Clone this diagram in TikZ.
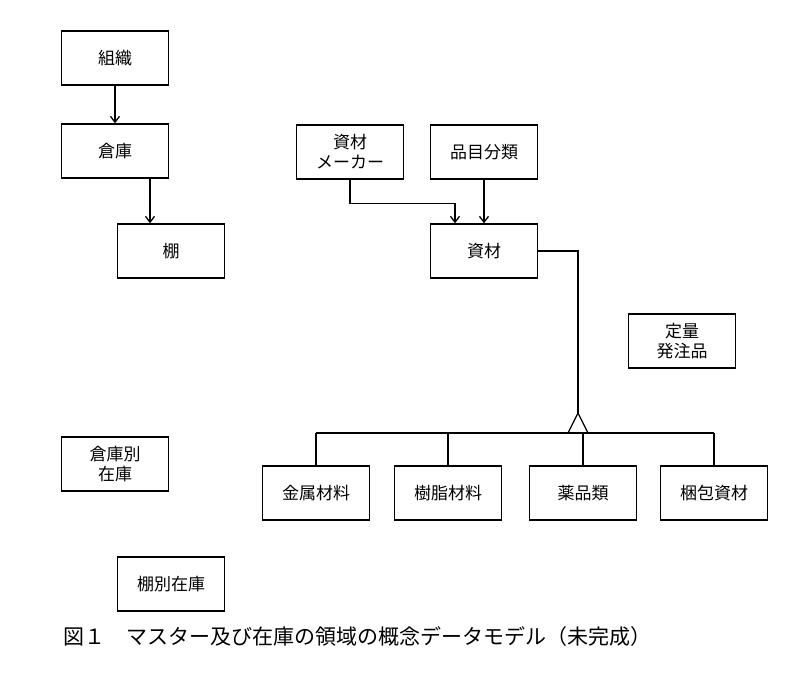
\documentclass[tikz,border=0pt]{standalone}
\usepackage{fontspec}
\setmainfont{Noto Sans CJK JP}
\usetikzlibrary{arrows.meta}
\begin{document}
\begin{tikzpicture}[x=1pt,y=-1pt,
 box/.style={draw,line width=1.3pt,minimum width=107pt,minimum height=54pt,align=center,font=\fontsize{17}{20}\selectfont,inner sep=0pt},
 ln/.style={line width=1.3pt},
 ar/.style={ln,-{Straight Barb[length=6pt,width=9pt]}}]
\useasboundingbox (0,0) rectangle (801,679);
\node[box] (soshiki) at (115,58) {組織};
\node[box] (souko) at (115,151) {倉庫};
\node[box] (tana) at (171,251) {棚};
\node[box] (maker) at (350,152) {資材\\メーカー};
\node[box] (hinmoku) at (484,152) {品目分類};
\node[box] (shizai) at (484,251) {資材};
\node[box] (teiryo) at (682,341) {定量\\発注品};
\node[box] (soukobetsu) at (115,464) {倉庫別\\在庫};
\node[box] (kinzoku) at (316,493) {金属材料};
\node[box] (jushi) at (448,493) {樹脂材料};
\node[box] (yakuhin) at (583,493) {薬品類};
\node[box] (konpou) at (714,493) {梱包資材};
\node[box] (tanabetsu) at (171,584) {棚別在庫};
\node[font=\fontsize{21}{24}\selectfont,anchor=west] (cap) at (60,637) {図１　マスター及び在庫の領域の概念データモデル（未完成）};
\draw[ar] (soshiki) -- (souko);
\draw[ar] (souko.south -| 150,0) -- (tana.north -| 150,0);
\draw[ar] (maker.south) -- ++(0,24) -| (455,0 |- shizai.north);
\draw[ar] (hinmoku) -- (shizai);
\coordinate (apex) at (578,413);
\draw[ln] (shizai.east) -- (578,251) -- (apex);
\draw[ln] (apex) -- (568,433) (apex) -- (588,433);
\draw[ln] (316,433) -- (714,433);
\draw[ln] (316,433) -- (kinzoku.north);
\draw[ln] (448,433) -- (jushi.north);
\draw[ln] (583,433) -- (yakuhin.north);
\draw[ln] (714,433) -- (konpou.north);
\end{tikzpicture}
\end{document}
